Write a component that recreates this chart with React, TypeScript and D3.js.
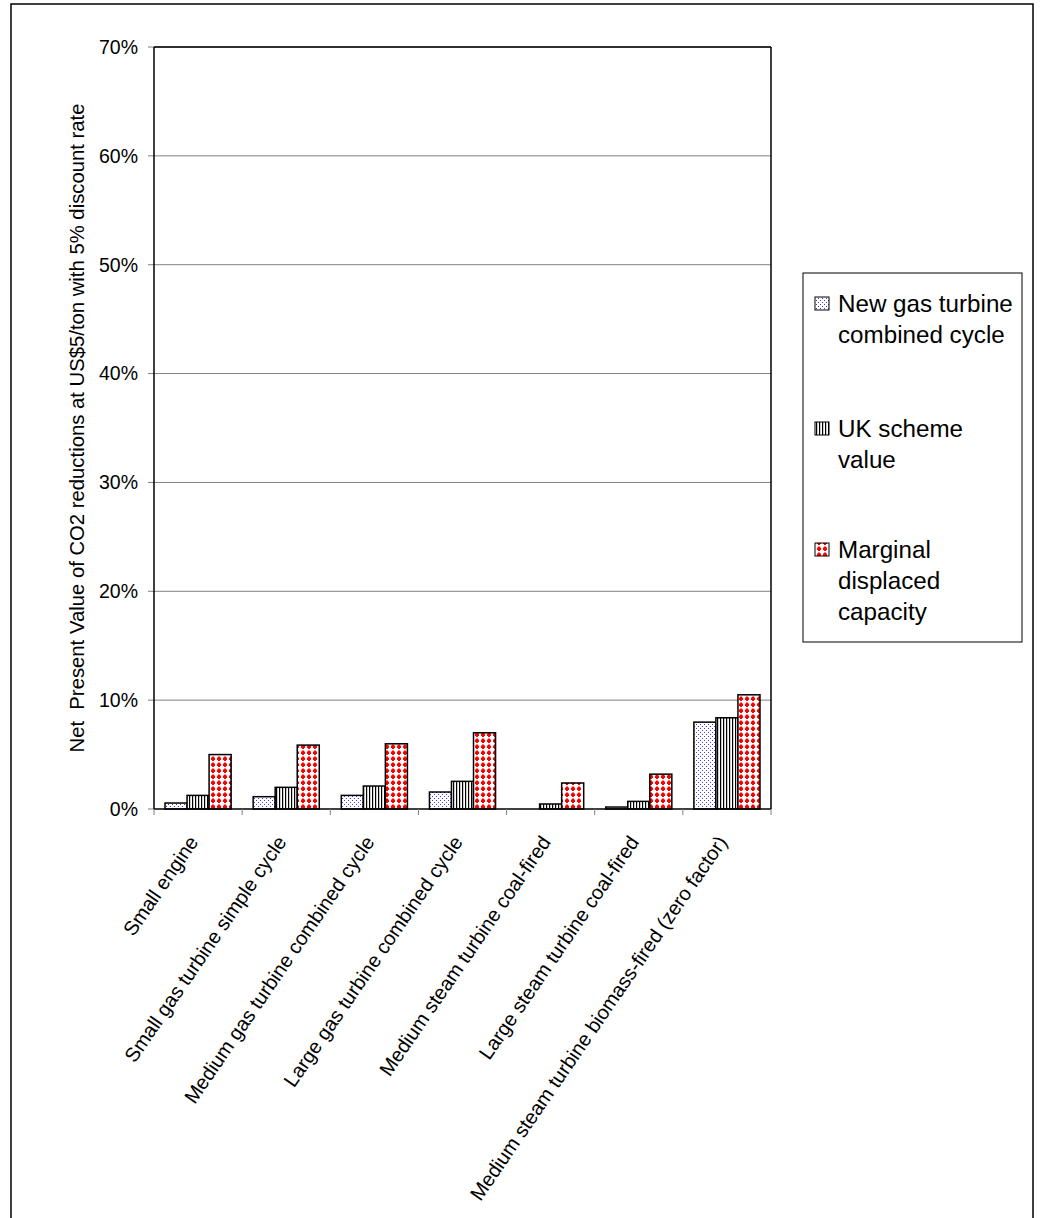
import React from "react";
import * as d3 from "d3";

const categories = [
  "Small engine",
  "Small gas turbine simple cycle",
  "Medium gas turbine combined cycle",
  "Large gas turbine combined cycle",
  "Medium steam turbine coal-fired",
  "Large steam turbine coal-fired",
  "Medium steam turbine biomass-fired (zero factor)",
];
const seriesNames = ["New gas turbine combined cycle", "UK scheme value", "Marginal displaced capacity"];
const newGasValues = [0.55, 1.13, 1.25, 1.56, 0, 0.18, 7.98];
const ukSchemeValues = [1.25, 1.99, 2.11, 2.54, 0.46, 0.7, 8.38];
const marginalValues = [5.0, 5.87, 5.99, 7.0, 2.39, 3.2, 10.49];
const yTicks = [0, 10, 20, 30, 40, 50, 60, 70];
const legendLines = [
  ["New gas turbine", "combined cycle"],
  ["UK scheme", "value"],
  ["Marginal", "displaced", "capacity"],
];
const yTitle = "Net  Present Value of CO2 reductions at US$5/ton with 5% discount rate";

const FONT = "'Liberation Sans', Arial, sans-serif";

export default function App() {
  const left = 154, right = 771, top = 47, bottom = 809;
  const x = d3.scaleBand<string>().domain(categories).range([left, right]).paddingInner(0).paddingOuter(0);
  const xs = d3.scaleBand<number>().domain([0, 1, 2]).range([0, x.bandwidth()]).paddingInner(0).paddingOuter(0.5);
  const y = d3.scaleLinear().domain([0, 70]).range([bottom, top]);
  const allSeries = [newGasValues, ukSchemeValues, marginalValues];
  const fills = ["url(#pBlue)", "url(#pStripe)", "url(#pRed)"];
  const legendY = [297, 422, 543];
  const tickEdges = d3.range(categories.length + 1).map((i) => left + i * x.step());

  return (
    <svg width={1042} height={1218} style={{ position: "absolute", left: 0, top: 0, background: "#fff" }} fontFamily={FONT}>
      <defs>
        <pattern id="pBlue" width={4} height={4} patternUnits="userSpaceOnUse">
          <rect width={4} height={4} fill="#fff" />
          <rect x={0} y={0} width={1} height={1} fill="#3b3bff" />
          <rect x={2} y={2} width={1} height={1} fill="#3b3bff" />
        </pattern>
        <pattern id="pStripe" width={3} height={3} patternUnits="userSpaceOnUse">
          <rect width={3} height={3} fill="#fff" />
          <rect x={0} y={0} width={1.2} height={3} fill="#000" />
        </pattern>
        <pattern id="pRed" width={6} height={6} patternUnits="userSpaceOnUse">
          <rect width={6} height={6} fill="#fff" />
          <path d="M2,0.5 h2 v1 h1 v2.5 h-1 v1 h-2 v-1 h-1 v-2.5 h1 z" fill="#ff0000" />
        </pattern>
      </defs>
      <rect x={11} y={4} width={1022} height={1230} fill="none" stroke="#000" strokeWidth={1.5} />

      {yTicks.map((t) => (
        <g key={t}>
          {t > 0 && <line x1={left} x2={right} y1={y(t)} y2={y(t)} stroke="#808080" strokeWidth={1} />}
          <line x1={left - 6} x2={left} y1={y(t)} y2={y(t)} stroke="#808080" strokeWidth={1} />
          <text x={138} y={y(t)} dy="0.35em" textAnchor="end" fontSize={19.5} fill="#000">{`${t}%`}</text>
        </g>
      ))}
      <line x1={left} x2={right} y1={top} y2={top} stroke="#000" strokeWidth={1.5} />
      <line x1={right} x2={right} y1={top} y2={bottom} stroke="#000" strokeWidth={1.5} />

      {categories.map((c, ci) => (
        <g key={c}>
          {allSeries.map((vals, si) =>
            vals[ci] > 0 ? (
              <rect
                key={si}
                x={(x(c) as number) + (xs(si) as number)}
                y={y(vals[ci])}
                width={xs.bandwidth()}
                height={y(0) - y(vals[ci])}
                fill={fills[si]}
                stroke="#000"
                strokeWidth={1.5}
              />
            ) : null
          )}
        </g>
      ))}

      <line x1={left} x2={left} y1={top} y2={bottom} stroke="#000" strokeWidth={1.5} />
      <line x1={left} x2={right} y1={bottom} y2={bottom} stroke="#000" strokeWidth={1.5} />
      {tickEdges.map((tx, i) => (
        <line key={i} x1={tx} x2={tx} y1={bottom} y2={bottom + 6} stroke="#808080" strokeWidth={1} />
      ))}

      {categories.map((c) => (
        <text
          key={c}
          transform={`translate(${(x(c) as number) + x.bandwidth() / 2 + 1},${842}) rotate(-55.5)`}
          textAnchor="end"
          fontSize={20}
          fill="#000"
        >
          {c}
        </text>
      ))}

      <text
        transform={`translate(84,${(top + bottom) / 2}) rotate(-90)`}
        textAnchor="middle"
        fontSize={20.3}
        fill="#000"
        style={{ whiteSpace: "pre" }}
      >
        {yTitle}
      </text>

      <rect x={803} y={273} width={219} height={369} fill="#fff" stroke="#000" strokeWidth={1} />
      {seriesNames.map((s, i) => (
        <g key={s}>
          <rect x={815} y={legendY[i]} width={14} height={13} fill={fills[i]} stroke="#000" strokeWidth={1} />
          {legendLines[i].map((ln, li) => (
            <text key={li} x={838} y={legendY[i] + 15 + li * 31} fontSize={24.2} fill="#000">{ln}</text>
          ))}
        </g>
      ))}
    </svg>
  );
}
